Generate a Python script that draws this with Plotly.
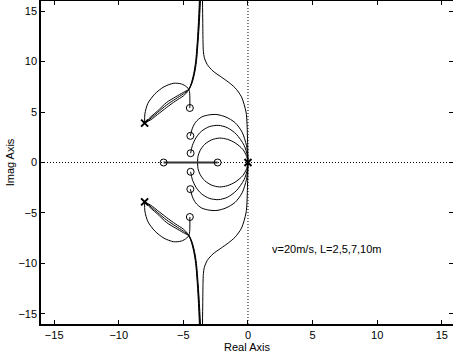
import plotly.graph_objects as go

# ---- poles (x) and zeros (o) ----
pole_x = [0.0, -8.0, -8.0]
pole_y = [0.0, 3.9, -3.9]
zero_x = [-4.5, -4.46, -4.44, -6.53, -2.35, -4.5, -4.46, -4.44]
zero_y = [5.4, 2.64, 0.92, 0.0, 0.0, -5.4, -2.64, -0.92]

# ---- branches, upper half (lower half is the complex-conjugate mirror) ----
# pole -8+3.9j -> zero -4.5+5.4j (loop)
loop_x = [-8.0, -7.98, -7.75, -7.2, -6.5, -5.75, -5.15, -4.75, -4.55, -4.5, -4.5]
loop_y = [3.9, 4.8, 5.85, 6.8, 7.5, 7.85, 7.78, 7.5, 7.15, 6.5, 5.4]

# pole -8+3.9j -> asymptote (three close branches)
b1_x = [-8.0, -7.5, -7.0, -6.3, -5.6, -5.0, -4.6, -4.4, -4.2, -4.05, -3.92, -3.83, -3.76]
b1_y = [3.9, 4.55, 5.1, 5.95, 6.5, 6.95, 7.25, 7.8, 8.8, 10.0, 12.0, 14.0, 16.0]
b2_x = [-8.0, -7.5, -7.0, -6.3, -5.6, -5.0, -4.6, -4.38, -4.17, -4.02, -3.89, -3.79, -3.72]
b2_y = [3.9, 4.4, 4.95, 5.7, 6.3, 6.8, 7.2, 7.8, 8.8, 10.0, 12.0, 14.0, 16.0]
b3_x = [-8.0, -7.5, -7.0, -6.3, -5.6, -5.0, -4.6, -4.35, -4.14, -3.99, -3.86, -3.76, -3.68]
b3_y = [3.9, 4.25, 4.75, 5.45, 6.1, 6.6, 7.15, 7.8, 8.8, 10.0, 12.0, 14.0, 16.0]

# origin -> asymptote (wide thin branch)
wide_x = [0.0, -0.01, -0.03, -0.05, -0.08, -0.15, -0.5, -1.0, -1.5, -2.1, -2.7, -3.15, -3.38, -3.45, -3.48, -3.5, -3.52]
wide_y = [0.0, 1.0, 2.0, 3.0, 4.0, 5.0, 6.5, 7.4, 7.95, 8.5, 9.05, 9.7, 10.4, 11.0, 12.0, 14.0, 16.0]

# origin -> zero -4.46+2.64j
arc2_x = [0.0, -0.03, -0.12, -0.45, -1.0, -1.7, -2.4, -3.0, -3.6, -4.05, -4.3, -4.46]
arc2_y = [0.0, 0.8, 1.7, 3.0, 3.95, 4.5, 4.75, 4.72, 4.5, 4.0, 3.4, 2.64]

# origin -> zero -4.44+0.92j
arc3_x = [0.0, -0.05, -0.3, -0.9, -1.6, -2.3, -3.0, -3.6, -4.0, -4.3, -4.44]
arc3_y = [0.0, 0.7, 1.7, 2.8, 3.45, 3.68, 3.55, 3.1, 2.5, 1.7, 0.92]

# origin -> real-axis break-in
circ_x = [0.0, -0.1, -0.4, -1.0, -1.6, -2.2, -2.8, -3.35, -3.7, -3.87, -3.9]
circ_y = [0.0, 0.6, 1.3, 1.95, 2.3, 2.42, 2.25, 1.8, 1.2, 0.6, 0.0]

# real-axis segment between the two real zeros
seg_x = [-6.53, -2.35]
seg_y = [0.0, 0.0]

x_ticks = [-15, -10, -5, 0, 5, 10, 15]
y_ticks = [-15, -10, -5, 0, 5, 10, 15]
x_range = [-16.02, 15.87]
y_range = [-16.0, 16.0]
note = "v=20m/s, L=2,5,7,10m"
note_x, note_y = 1.7, -8.55


def mirrored(xs, ys):
    return list(xs) + [None] + list(xs), list(ys) + [None] + [-v for v in ys]


def lab(v):
    return ("\u2212" + str(-v)) if v < 0 else str(v)


fig = go.Figure()
FONT = "Liberation Sans, Arial, Helvetica, sans-serif"

# dotted axes through origin
fig.add_trace(go.Scatter(x=[x_range[0], x_range[1]], y=[0, 0], mode="lines",
                         line=dict(color="black", width=1, dash="1px,2px"), hoverinfo="skip"))
fig.add_trace(go.Scatter(x=[0, 0], y=[y_range[0], y_range[1]], mode="lines",
                         line=dict(color="black", width=1, dash="1px,2px"), hoverinfo="skip"))

for xs, ys, w in [(loop_x, loop_y, 1), (b1_x, b1_y, 1), (b2_x, b2_y, 1), (b3_x, b3_y, 1),
                  (wide_x, wide_y, 1), (arc2_x, arc2_y, 1), (arc3_x, arc3_y, 1),
                  (circ_x, circ_y, 1)]:
    mx, my = mirrored(xs, ys)
    fig.add_trace(go.Scatter(x=mx, y=my, mode="lines",
                             line=dict(color="black", width=w, shape="spline", smoothing=0.8)))

fig.add_trace(go.Scatter(x=seg_x, y=seg_y, mode="lines",
                         line=dict(color="#333333", width=2)))

fig.add_trace(go.Scatter(x=zero_x, y=zero_y, mode="markers",
                         marker=dict(symbol="circle-open", size=7, color="black",
                                     line=dict(width=1, color="black"))))
fig.add_trace(go.Scatter(x=pole_x, y=pole_y, mode="markers",
                         marker=dict(symbol="x-thin", size=7, color="black",
                                     line=dict(width=2, color="black"))))

fig.add_annotation(x=note_x, y=note_y, text=note, showarrow=False, xanchor="left",
                   yanchor="middle", font=dict(family=FONT, size=11, color="black"))

axis_common = dict(showgrid=False, zeroline=False, showline=True, linecolor="black",
                   linewidth=1.5, mirror="ticks", ticks="inside", ticklen=4,
                   tickcolor="black", tickwidth=1, automargin=False,
                   tickfont=dict(family=FONT, size=11, color="black"))

fig.update_layout(
    width=453, height=355,
    margin=dict(l=41, r=0, t=1, b=31),
    plot_bgcolor="white", paper_bgcolor="white",
    showlegend=False,
    font=dict(family=FONT, size=11, color="black"),
    xaxis=dict(range=x_range, tickvals=x_ticks, ticktext=[lab(v) for v in x_ticks],
               title=dict(text="Real Axis", standoff=0, font=dict(family=FONT, size=11, color="black")),
               **axis_common),
    yaxis=dict(range=y_range, tickvals=y_ticks, ticktext=[lab(v) for v in y_ticks],
               title=dict(text="Imag Axis", standoff=2, font=dict(family=FONT, size=11, color="black")),
               **axis_common),
)

fig.write_html("out.html", config={"displayModeBar": False},
               post_script="document.body.style.margin='0';")
